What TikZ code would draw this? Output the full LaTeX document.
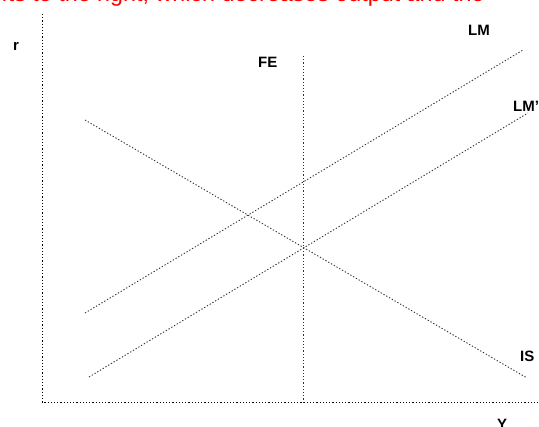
\documentclass[tikz,border=0pt]{standalone}
\usepackage{fontspec}
\setmainfont{Liberation Sans}
\usetikzlibrary{positioning}
\begin{document}
\begin{tikzpicture}[
				x=1pt, y=-1pt,
				curve/.style={
					line width=0.9pt, black!80,
					dash pattern=on 1.3pt off 1.9pt
				},
				axis/.style={
					curve, black
				},
				lbl/.style={
					font=\fontsize{15}{18}\selectfont\bfseries,
					inner sep=0pt, anchor=base west
				},
				note/.style={
					font=\fontsize{23.3}{28}\selectfont, text=red,
					inner sep=0pt, anchor=base west
				}
				]
				\useasboundingbox (0,0) rectangle (539,427);
				\clip (0,0) rectangle (539,427);
				
				% caption cut off at the top
				\node[note] (caption) at (-28.6,1.5) {shifts to the right, which decreases output and the};
				
				% axes
				\coordinate (rtop) at (42,14);
				\coordinate (origin) at (42,402);
				\coordinate (yend) at (539,402);
				\node[lbl] (rlabel) at (13,51) {r};
				\node[lbl] (ylabel) at (497,430) {Y};
				
				% full employment line
				\coordinate (fetop) at (303,56);
				\coordinate (febot) at (303,402);
				\node[lbl] (felabel) at (258,68) {FE};
				
				% IS curve
				\coordinate (is1) at (85,120);
				\coordinate (is2) at (527,378);
				\node[lbl] (islabel) at (520,362) {IS};
				
				% LM curve
				\coordinate (lm1) at (85,313);
				\coordinate (lm2) at (523,50);
				\node[lbl] (lmlabel) at (468,36) {LM};
				
				% LM' curve
				\coordinate (lmb1) at (89,377);
				\coordinate (lmb2) at (528,113);
				\node[lbl] (lmblabel) at (513,112) {LM'};
				
				% lines between points
				\draw[axis] (rtop) -- (origin) -- (yend);
				\draw[curve] (fetop) -- (febot);
				\draw[curve] (is1) -- (is2);
				\draw[curve] (lm1) -- (lm2);
				\draw[curve] (lmb1) -- (lmb2);
			\end{tikzpicture}
\end{document}
